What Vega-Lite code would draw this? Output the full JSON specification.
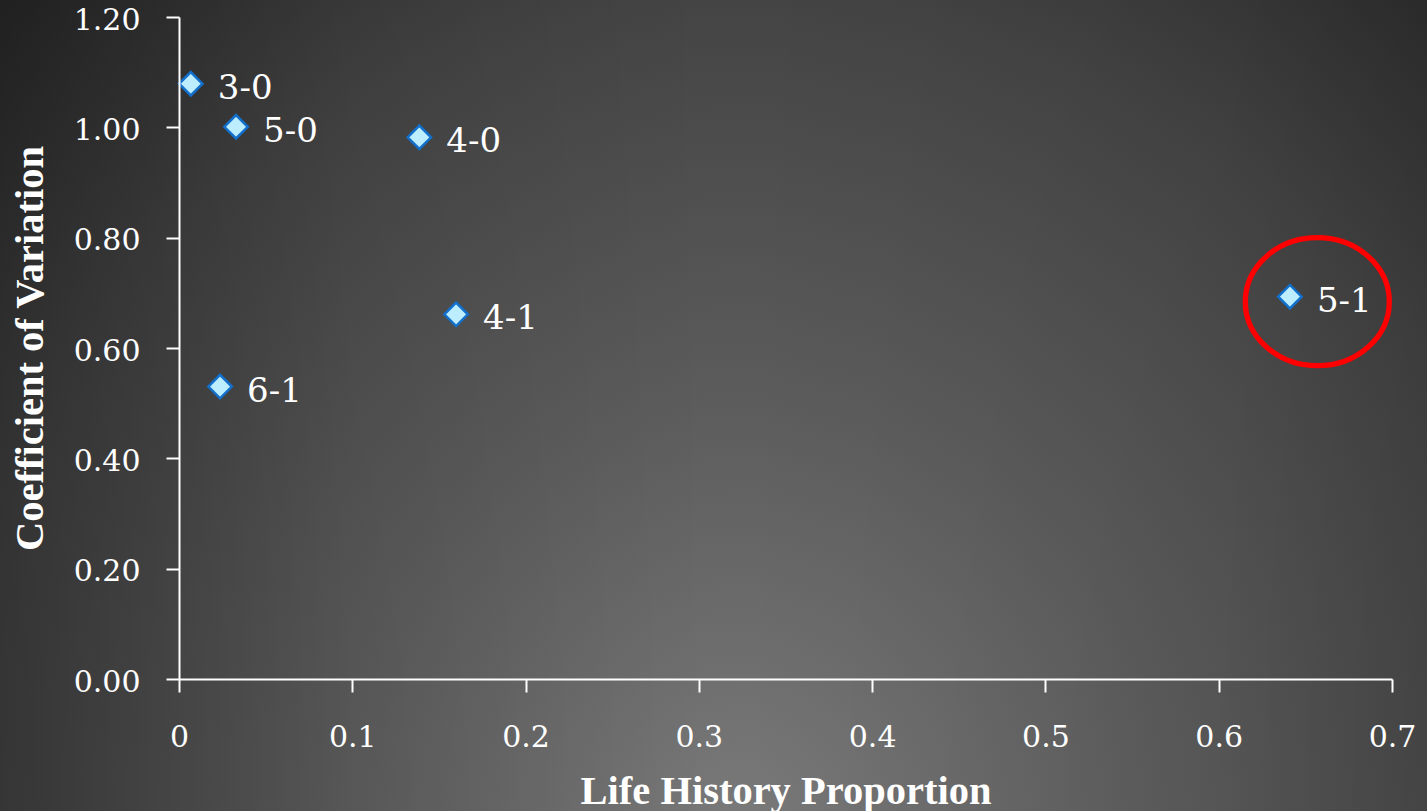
{
  "$schema": "https://vega.github.io/schema/vega-lite/v6.json",
  "width": 1213,
  "height": 662,
  "autosize": {"type": "none"},
  "padding": {"left": 179, "top": 17, "right": 35, "bottom": 132},
  "background": "#3a3a3a",
  "config": {
    "view": {"stroke": null},
    "axis": {
      "grid": false,
      "domainColor": "#ffffff",
      "domainWidth": 2,
      "tickColor": "#ffffff",
      "tickWidth": 2,
      "tickSize": 13,
      "labelColor": "#ffffff",
      "labelFont": "DejaVu Serif",
      "labelFontSize": 30,
      "titleColor": "#ffffff",
      "titleFont": "Liberation Serif",
      "titleFontSize": 40.5,
      "titleFontWeight": "bold"
    }
  },
  "data": {
    "values": [
      {"kind": "bg", "x": -0.11, "x2": 0.73, "y": -0.25, "y2": 1.24},
      {"kind": "highlight", "x": 0.6569, "y": 0.684},
      {"kind": "point", "label": "3-0", "x": 0.0068, "y": 1.079},
      {"kind": "point", "label": "5-0", "x": 0.0329, "y": 1.001},
      {"kind": "point", "label": "4-0", "x": 0.1387, "y": 0.982},
      {"kind": "point", "label": "4-1", "x": 0.1599, "y": 0.661},
      {"kind": "point", "label": "6-1", "x": 0.0237, "y": 0.530},
      {"kind": "point", "label": "5-1", "x": 0.6411, "y": 0.693}
    ]
  },
  "encoding": {
    "x": {
      "field": "x",
      "type": "quantitative",
      "scale": {"domain": [0, 0.7], "nice": false, "zero": false},
      "axis": {
        "zindex": 2,
        "title": "Life History Proportion",
        "values": [0, 0.1, 0.2, 0.3, 0.4, 0.5, 0.6, 0.7],
        "labelExpr": "datum.value == 0 ? '0' : format(datum.value, '.1f')",
        "labelFlush": false,
        "labelOverlap": false,
        "labelBaseline": "alphabetic",
        "labelPadding": 54,
        "titleBaseline": "alphabetic",
        "titleY": 124
      }
    },
    "y": {
      "field": "y",
      "type": "quantitative",
      "scale": {"domain": [0, 1.2], "nice": false, "zero": false},
      "axis": {
        "zindex": 2,
        "title": "Coefficient of Variation",
        "values": [0, 0.2, 0.4, 0.6, 0.8, 1.0, 1.2],
        "format": ".2f",
        "labelFlush": false,
        "labelOverlap": false,
        "labelPadding": 26,
        "labelBaseline": "middle",
        "labelOffset": 3,
        "titleAngle": -90,
        "titleBaseline": "alphabetic",
        "titleAlign": "center",
        "titleX": -137,
        "titleY": 331
      }
    }
  },
  "layer": [
    {
      "transform": [{"filter": "datum.kind == 'bg'"}],
      "mark": {
        "type": "rect",
        "clip": false,
        "zindex": 0,
        "fill": {
          "gradient": "radial",
          "x1": 0.52, "y1": 0.791, "r1": 0,
          "x2": 0.52, "y2": 0.791, "r2": 0.766,
          "stops": [
            {"offset": 0, "color": "#7a7a7a"},
            {"offset": 0.386, "color": "#5c5c5c"},
            {"offset": 0.744, "color": "#444444"},
            {"offset": 1, "color": "#2c2c2c"}
          ]
        }
      },
      "encoding": {"x2": {"field": "x2"}, "y2": {"field": "y2"}}
    },
    {
      "transform": [{"filter": "datum.kind == 'bg'"}],
      "mark": {
        "type": "rect",
        "clip": false,
        "zindex": 0,
        "fill": {
          "gradient": "linear",
          "x1": 0, "y1": 0, "x2": 1, "y2": 0,
          "stops": [
            {"offset": 0, "color": "rgba(0,0,0,0.28)"},
            {"offset": 0.25, "color": "rgba(0,0,0,0.08)"},
            {"offset": 0.5, "color": "rgba(0,0,0,0)"},
            {"offset": 0.85, "color": "rgba(0,0,0,0.05)"},
            {"offset": 1, "color": "rgba(0,0,0,0.12)"}
          ]
        }
      },
      "encoding": {"x2": {"field": "x2"}, "y2": {"field": "y2"}}
    },
    {
      "transform": [{"filter": "datum.kind == 'highlight'"}],
      "mark": {
        "type": "point",
        "zindex": 3,
        "shape": "M 1 0 C 1 0.491 0.552 0.889 0 0.889 C -0.552 0.889 -1 0.491 -1 0 C -1 -0.491 -0.552 -0.889 0 -0.889 C 0.552 -0.889 1 -0.491 1 0 Z",
        "size": 20736,
        "filled": false,
        "stroke": "#ff0000",
        "strokeWidth": 5.3,
        "opacity": 1
      }
    },
    {
      "transform": [{"filter": "datum.kind == 'point'"}],
      "mark": {
        "type": "point",
        "zindex": 3,
        "shape": "diamond",
        "size": 550,
        "filled": true,
        "fill": "#bdeeff",
        "stroke": "#1270cc",
        "strokeWidth": 2.5,
        "opacity": 1
      }
    },
    {
      "transform": [{"filter": "datum.kind == 'point'"}],
      "mark": {
        "type": "text",
        "zindex": 3,
        "align": "left",
        "baseline": "alphabetic",
        "dx": 27,
        "dy": 15,
        "font": "DejaVu Serif",
        "fontSize": 34,
        "color": "#ffffff"
      },
      "encoding": {"text": {"field": "label"}}
    }
  ]
}
